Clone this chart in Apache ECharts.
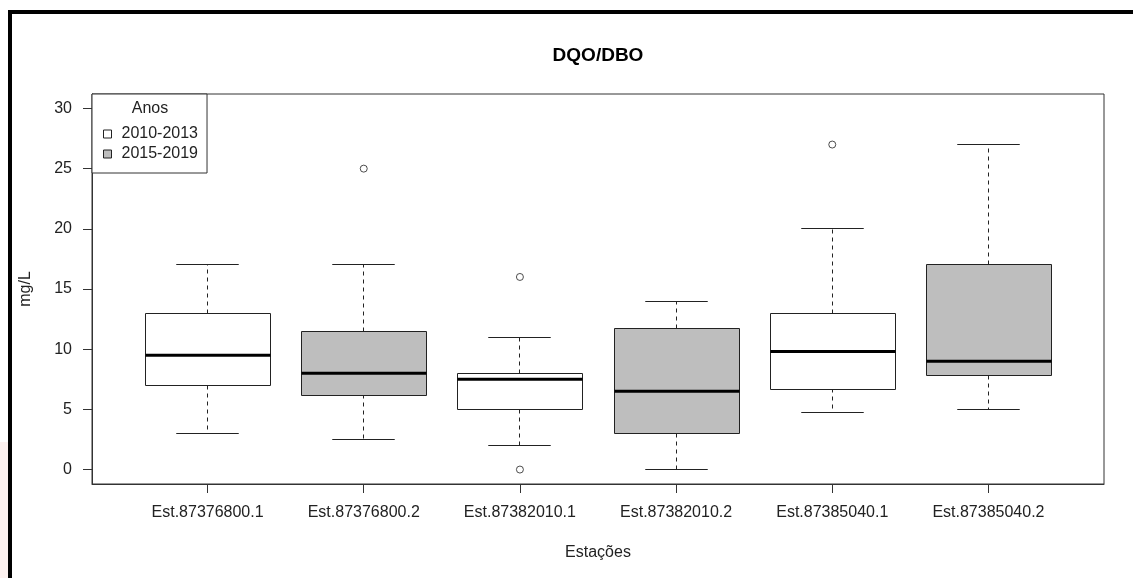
<!DOCTYPE html>
<html>
<head>
<meta charset="utf-8">
<script src="https://cdn.jsdelivr.net/npm/echarts@6/dist/echarts.min.js"></script>
<style>
  html, body { margin: 0; padding: 0; background: #fff; }
  #chart { width: 1133px; height: 578px; }
</style>
</head>
<body>
<div id="chart"></div>
<script>
// stations, in plotting order
const stations = ['Est.87376800.1', 'Est.87376800.2', 'Est.87382010.1', 'Est.87382010.2', 'Est.87385040.1', 'Est.87385040.2'];
const periods = ['2010-2013', '2015-2019', '2010-2013', '2015-2019', '2010-2013', '2015-2019'];

// box statistics (mg/L)
const lowerWhisker = [3, 2.5, 2, 0, 4.7, 5];
const q1 = [7, 6.2, 5, 3, 6.7, 7.8];
const median = [9.5, 8, 7.5, 6.5, 9.8, 9];
const q3 = [13, 11.5, 8, 11.7, 13, 17];
const upperWhisker = [17, 17, 11, 14, 20, 27];

// outliers: station number (1-based) and value
const outlierStation = [2, 3, 3, 5];
const outlierValue = [25, 16, 0, 27];

const yTicks = [0, 5, 10, 15, 20, 25, 30];
const xTicks = [1, 2, 3, 4, 5, 6];

const FONT = "'Liberation Sans', Arial, sans-serif";
const INK = '#222';

const periodColors = { '2010-2013': '#ffffff', '2015-2019': '#bebebe' };

function seriesData(period) {
  const out = [];
  stations.forEach((s, i) => {
    if (periods[i] === period) {
      out.push([i + 1, lowerWhisker[i], q1[i], median[i], q3[i], upperWhisker[i]]);
    }
  });
  return out;
}

const snap = v => Math.round(v - 0.5) + 0.5;

function renderBox(params, api) {
  const x = api.value(0);
  const half = api.size([0.8, 0])[0] / 2;
  const capHalf = half / 2;
  const low = api.coord([x, api.value(1)]);
  const b1 = api.coord([x, api.value(2)]);
  const med = api.coord([x, api.value(3)]);
  const b3 = api.coord([x, api.value(4)]);
  const high = api.coord([x, api.value(5)]);
  const cx = snap(med[0]);
  const line = { stroke: INK, lineWidth: 1 };
  const dash = { stroke: INK, lineWidth: 1, lineDash: [4, 4] };
  return {
    type: 'group',
    children: [
      { type: 'line', shape: { x1: cx, y1: snap(b3[1]), x2: cx, y2: snap(high[1]) }, style: dash },
      { type: 'line', shape: { x1: cx, y1: snap(b1[1]), x2: cx, y2: snap(low[1]) }, style: dash },
      { type: 'line', shape: { x1: cx - capHalf, y1: snap(high[1]), x2: cx + capHalf, y2: snap(high[1]) }, style: line },
      { type: 'line', shape: { x1: cx - capHalf, y1: snap(low[1]), x2: cx + capHalf, y2: snap(low[1]) }, style: line },
      {
        type: 'rect',
        shape: { x: snap(cx - half), y: snap(b3[1]), width: Math.round(2 * half), height: Math.round(b1[1] - b3[1]) },
        style: { fill: api.visual('color'), stroke: INK, lineWidth: 1 }
      },
      { type: 'line', shape: { x1: snap(cx - half), y1: med[1], x2: snap(cx - half) + Math.round(2 * half), y2: med[1] }, style: { stroke: '#000', lineWidth: 3 } }
    ]
  };
}

const chart = echarts.init(document.getElementById('chart'));

chart.setOption({
  animation: false,
  backgroundColor: '#fff',
  textStyle: { fontFamily: FONT, color: INK },
  grid: {
    left: 92, top: 94, width: 1012, height: 390,
    show: true, borderColor: '#333', borderWidth: 1, backgroundColor: 'transparent'
  },
  legend: {
    orient: 'vertical',
    left: 92, top: 94,
    padding: [32, 9, 11, 11],
    itemGap: 4,
    itemWidth: 8, itemHeight: 8,
    selectedMode: false,
    backgroundColor: '#fff',
    borderColor: '#333', borderWidth: 1, borderRadius: 0,
    textStyle: { fontFamily: FONT, fontSize: 16, color: INK, padding: [0, 0, 0, 5] },
    itemStyle: { borderColor: INK, borderWidth: 1 },
    data: [
      { name: '2010-2013', icon: 'rect' },
      { name: '2015-2019', icon: 'rect' }
    ]
  },
  xAxis: {
    type: 'value',
    min: 0.26, max: 6.74,
    name: 'Estações',
    nameLocation: 'middle',
    nameGap: 61,
    nameTextStyle: { fontFamily: FONT, fontSize: 16, color: INK },
    splitLine: { show: false },
    axisLine: { show: true, onZero: false, lineStyle: { color: '#333', width: 1 } },
    axisTick: { show: true, length: 9, customValues: xTicks, lineStyle: { color: '#333' } },
    axisLabel: {
      customValues: xTicks,
      margin: 21,
      fontFamily: FONT, fontSize: 16, color: INK,
      formatter: v => stations[Math.round(v) - 1]
    }
  },
  yAxis: {
    type: 'value',
    min: -1.2, max: 31.2,
    name: 'mg/L',
    nameLocation: 'middle',
    nameRotate: 90,
    nameGap: 58,
    nameTextStyle: { fontFamily: FONT, fontSize: 16, color: INK },
    splitLine: { show: false },
    axisLine: { show: true, onZero: false, lineStyle: { color: '#333', width: 1 } },
    axisTick: { show: true, length: 9, customValues: yTicks, lineStyle: { color: '#333' } },
    axisLabel: { customValues: yTicks, margin: 20, fontFamily: FONT, fontSize: 16, color: INK }
  },
  series: [
    {
      name: '2010-2013', type: 'custom', renderItem: renderBox,
      itemStyle: { color: periodColors['2010-2013'] },
      encode: { x: 0, y: [1, 2, 3, 4, 5] },
      data: seriesData('2010-2013'), z: 3
    },
    {
      name: '2015-2019', type: 'custom', renderItem: renderBox,
      itemStyle: { color: periodColors['2015-2019'] },
      encode: { x: 0, y: [1, 2, 3, 4, 5] },
      data: seriesData('2015-2019'), z: 3
    },
    {
      name: 'outliers', type: 'scatter',
      symbol: 'circle', symbolSize: 7,
      itemStyle: { color: '#fff', borderColor: INK, borderWidth: 1 },
      data: outlierStation.map((s, i) => [s, outlierValue[i]]), z: 4
    }
  ],
  graphic: [
    { type: 'rect', shape: { x: 0, y: 442, width: 8, height: 136 }, style: { fill: '#fcf1ef' }, z: 100 },
    { type: 'rect', shape: { x: 8, y: 10, width: 1125, height: 4 }, style: { fill: '#000' }, z: 100 },
    { type: 'rect', shape: { x: 8, y: 10, width: 4, height: 568 }, style: { fill: '#000' }, z: 100 },
    {
      type: 'text', x: 598, y: 56, z: 100,
      style: { text: 'DQO/DBO', align: 'center', verticalAlign: 'middle', font: 'bold 19px ' + FONT, fill: '#000' }
    },
    {
      type: 'text', x: 150, y: 109, z: 100,
      style: { text: 'Anos', align: 'center', verticalAlign: 'middle', font: '16px ' + FONT, fill: INK }
    }
  ]
});

window.addEventListener('resize', () => chart.resize());
</script>
</body>
</html>
